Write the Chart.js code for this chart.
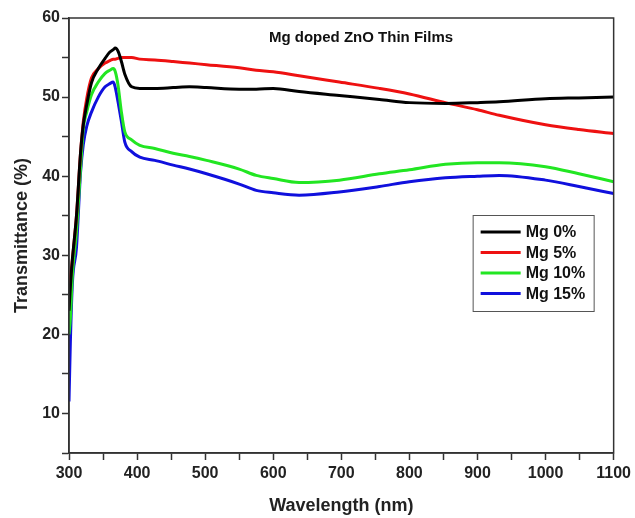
<!DOCTYPE html>
<html>
<head>
<meta charset="utf-8">
<title>Mg doped ZnO Thin Films</title>
<script src="https://cdn.jsdelivr.net/npm/chart.js@4.4.1/dist/chart.umd.min.js"></script>
<style>
  body { margin: 0; background: #fff; }
  #wrap { width: 635px; height: 518px; }
</style>
</head>
<body>
<div id="wrap"><canvas id="myChart" width="635" height="518"></canvas></div>
<script>
// wavelength samples (nm), shared by all four films
const wavelength = [300, 302, 305, 311, 317, 321, 326, 333, 343, 353, 360, 365, 368, 372, 377, 382, 392, 404,
  426, 453, 477, 502, 550, 575, 600, 638, 697, 756, 800, 853, 900, 932, 1000, 1049, 1100];

// transmittance (%) for each Mg content
const mg0 = [23, 26, 29.5, 35, 43, 46.5, 49, 51.8, 53.6, 54.9, 55.7, 56.0, 56.2, 55.8, 54.5, 52.9, 51.3, 51.1,
  51.1, 51.2, 51.3, 51.2, 51.0, 51.0, 51.1, 50.7, 50.2, 49.7, 49.3, 49.2, 49.3, 49.4, 49.8, 49.9, 50.0];
const mg5 = [24.5, 27, 29.5, 35, 43, 46.9, 49.8, 52.4, 53.6, 54.3, 54.6, 54.8, 54.8, 54.9, 55.0, 55.0, 55.0, 54.8,
  54.7, 54.5, 54.3, 54.1, 53.7, 53.4, 53.2, 52.7, 51.9, 51.1, 50.4, 49.3, 48.4, 47.7, 46.5, 45.9, 45.4];
const mg10 = [20, 22, 27.5, 33, 41, 46.0, 48.1, 50.3, 51.9, 53.0, 53.4, 53.6, 53.2, 51.5, 48.1, 45.6, 44.6, 43.9,
  43.5, 42.9, 42.5, 42.0, 40.9, 40.1, 39.7, 39.2, 39.5, 40.3, 40.8, 41.5, 41.7, 41.7, 41.2, 40.3, 39.3];
const mg15 = [11.5, 19, 26.5, 31, 40.5, 44, 46.3, 48.1, 50.0, 51.3, 51.7, 51.9, 51.2, 49.4, 46.9, 44.3, 43.1, 42.4,
  42.0, 41.4, 40.9, 40.3, 39.0, 38.2, 37.9, 37.6, 38.0, 38.7, 39.3, 39.8, 40.0, 40.1, 39.5, 38.7, 37.8];

const seriesLabels = ['Mg 0%', 'Mg 5%', 'Mg 10%', 'Mg 15%'];
const seriesColors = ['#000000', '#ee1111', '#22e622', '#1010dd'];
const xTicks = [300, 400, 500, 600, 700, 800, 900, 1000, 1100];
const yTicks = [10, 20, 30, 40, 50, 60];

const chartTitle = 'Mg doped ZnO Thin Films';
const axisColor = '#333';
const boldFont = (size) => ({ family: '"Liberation Sans", Arial, sans-serif', size: size, weight: 'bold' });

function toPoints(ys) {
  return wavelength.map((w, i) => ({ x: w, y: ys[i] }));
}

// frame, inner title and boxed legend drawn over the plot
const decorations = {
  id: 'decorations',
  afterDraw(chart) {
    const { ctx, chartArea: a } = chart;
    ctx.save();
    ctx.strokeStyle = axisColor;
    ctx.lineWidth = 1.5;
    ctx.strokeRect(a.left, a.top, a.right - a.left, a.bottom - a.top);

    ctx.fillStyle = '#111';
    ctx.font = 'bold 15px "Liberation Sans", Arial, sans-serif';
    ctx.textAlign = 'center';
    ctx.textBaseline = 'middle';
    ctx.fillText(chartTitle, a.left + 292, a.top + 20);

    const bx = a.right - 141, by = a.top + 197, bw = 121, bh = 96;
    ctx.strokeStyle = '#555';
    ctx.lineWidth = 1;
    ctx.strokeRect(bx + 0.5, by + 0.5, bw, bh);
    ctx.font = 'bold 16px "Liberation Sans", Arial, sans-serif';
    ctx.textAlign = 'left';
    chart.data.datasets.forEach((ds, i) => {
      const ry = by + 17 + i * 20.5;
      ctx.strokeStyle = ds.borderColor;
      ctx.lineWidth = 3;
      ctx.beginPath();
      ctx.moveTo(bx + 8, ry);
      ctx.lineTo(bx + 48, ry);
      ctx.stroke();
      ctx.fillStyle = '#111';
      ctx.fillText(ds.label, bx + 53, ry + 1);
    });
    ctx.restore();
  }
};

const ctx = document.getElementById('myChart');

new Chart(ctx, {
  type: 'line',
  data: {
    datasets: [mg0, mg5, mg10, mg15].map((ys, i) => ({
      label: seriesLabels[i],
      data: toPoints(ys),
      borderColor: seriesColors[i],
      borderWidth: 3,
      pointRadius: 0,
      fill: false,
      cubicInterpolationMode: 'monotone'
    }))
  },
  options: {
    responsive: false,
    animation: false,
    layout: { padding: { left: 0, right: 20, top: 18, bottom: 0 } },
    plugins: {
      legend: { display: false },
      tooltip: { enabled: false }
    },
    scales: {
      x: {
        type: 'linear',
        min: 300,
        max: 1100,
        afterFit: (s) => { s.height = 65; },
        grid: { drawOnChartArea: false, tickLength: 7, tickColor: axisColor, tickWidth: 1.5 },
        border: { color: axisColor, width: 1.5 },
        ticks: {
          stepSize: 50,
          autoSkip: false,
          maxRotation: 0,
          padding: 4,
          color: '#222',
          font: boldFont(16),
          callback: (v) => xTicks.includes(v) ? v : ''
        },
        title: {
          display: true,
          text: 'Wavelength (nm)',
          color: '#222',
          font: boldFont(18),
          padding: { top: 0, bottom: 1 }
        }
      },
      y: {
        min: 5,
        max: 60,
        afterFit: (s) => { s.width = 69; },
        grid: { drawOnChartArea: false, tickLength: 7, tickColor: axisColor, tickWidth: 1.5 },
        border: { color: axisColor, width: 1.5 },
        ticks: {
          stepSize: 5,
          autoSkip: false,
          padding: 2,
          color: '#222',
          font: boldFont(16),
          callback: (v) => yTicks.includes(v) ? v : ''
        },
        title: {
          display: true,
          text: 'Transmittance (%)',
          color: '#222',
          font: boldFont(18),
          padding: { top: 11, bottom: 0 }
        }
      }
    }
  },
  plugins: [decorations]
});
</script>
</body>
</html>
